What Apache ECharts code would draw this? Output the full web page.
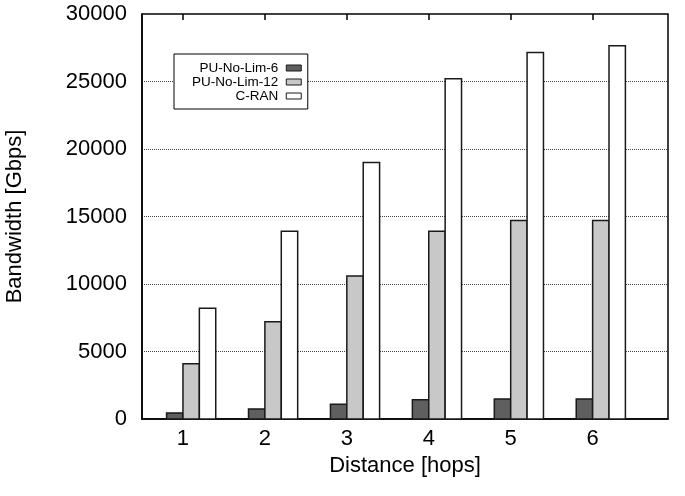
<!DOCTYPE html>
<html>
<head>
<meta charset="utf-8">
<script src="https://cdn.jsdelivr.net/npm/echarts@6/dist/echarts.min.js"></script>
<style>html,body{margin:0;padding:0;background:#fff;}#c{width:685px;height:496px;}</style>
</head>
<body>
<div id="c"></div>
<script>
const categories = [1, 2, 3, 4, 5, 6];
const seriesNames = ['PU-No-Lim-6', 'PU-No-Lim-12', 'C-RAN'];
const puNoLim6 = [450, 740, 1100, 1430, 1480, 1480];
const puNoLim12 = [4100, 7200, 10600, 13900, 14700, 14700];
const cRan = [8200, 13900, 19000, 25200, 27150, 27650];
const yTicks = [0, 5000, 10000, 15000, 20000, 25000, 30000];

const FONT = 'Liberation Sans, Arial, sans-serif';
const fills = ['#5f5f5f', '#c8c8c8', '#ffffff'];
const values = [puNoLim6, puNoLim12, cRan];
const barW = 0.2;
const offsets = [-0.1, 0.1, 0.3];

const chart = echarts.init(document.getElementById('c'), null, {renderer: 'canvas'});

const series = seriesNames.map((name, k) => ({
  name: name,
  type: 'custom',
  itemStyle: {color: fills[k], borderColor: '#1a1a1a', borderWidth: 1},
  data: categories.map((c, i) => [c, values[k][i]]),
  renderItem: function (params, api) {
    const x = api.value(0) + offsets[k];
    const y = api.value(1);
    const p0 = api.coord([x - barW / 2, y]);
    const p1 = api.coord([x + barW / 2, 0]);
    return {
      type: 'rect',
      shape: {x: p0[0], y: p0[1], width: p1[0] - p0[0], height: p1[1] - p0[1]},
      style: {fill: fills[k], stroke: '#1a1a1a', lineWidth: 1.5}
    };
  }
}));

chart.setOption({
  animation: false,
  backgroundColor: '#fff',
  grid: {left: 142, top: 14, right: 17, bottom: 77, containLabel: false, outerBoundsMode: 'none', show: true, borderColor: '#000', borderWidth: 1.5, backgroundColor: 'transparent'},
  legend: {
    orient: 'vertical',
    align: 'right',
    left: 174,
    top: 54,
    padding: [7, 6, 6, 18],
    itemGap: 0,
    itemWidth: 15,
    itemHeight: 6,
    icon: 'rect',
    backgroundColor: '#fff',
    borderColor: '#000',
    borderWidth: 1,
    borderRadius: 0,
    selectedMode: false,
    textStyle: {fontFamily: FONT, fontSize: 13.5, color: '#000', padding: [0, 3, 0, 0]},
    data: seriesNames.map((n, k) => ({name: n, itemStyle: {color: fills[k], borderColor: '#1a1a1a', borderWidth: 1}}))
  },
  xAxis: [{
    type: 'value',
    min: 0.5,
    max: 6.92,
    position: 'bottom',
    name: 'Distance [hops]',
    nameLocation: 'middle',
    nameGap: 30,
    nameTextStyle: {fontFamily: FONT, fontSize: 22, color: '#000'},
    axisLine: {show: true, lineStyle: {color: '#000', width: 1.5}},
    axisTick: {show: true, inside: true, length: 6, customValues: categories, lineStyle: {color: '#000', width: 1.5}},
    axisLabel: {show: true, customValues: categories, fontFamily: FONT, fontSize: 22, color: '#000', margin: 9, formatter: v => String(Math.round(v))},
    splitLine: {show: false}
  }, {
    type: 'value',
    min: 0.5,
    max: 6.92,
    position: 'top',
    axisLine: {show: false},
    axisTick: {show: true, inside: true, length: 6, customValues: categories, lineStyle: {color: '#000', width: 1.5}},
    axisLabel: {show: false},
    splitLine: {show: false}
  }],
  yAxis: {
    type: 'value',
    min: 0,
    max: 30000,
    interval: 5000,
    name: 'Bandwidth [Gbps]',
    nameLocation: 'middle',
    nameGap: 116,
    nameTextStyle: {fontFamily: FONT, fontSize: 22, color: '#000'},
    axisLine: {show: true, lineStyle: {color: '#000', width: 1.5}},
    axisTick: {show: false},
    axisLabel: {fontFamily: FONT, fontSize: 22, color: '#000', margin: 15, formatter: v => String(v)},
    splitLine: {show: true, lineStyle: {type: 'dotted', color: '#444', width: 1}}
  },
  series: series
});
</script>
</body>
</html>
